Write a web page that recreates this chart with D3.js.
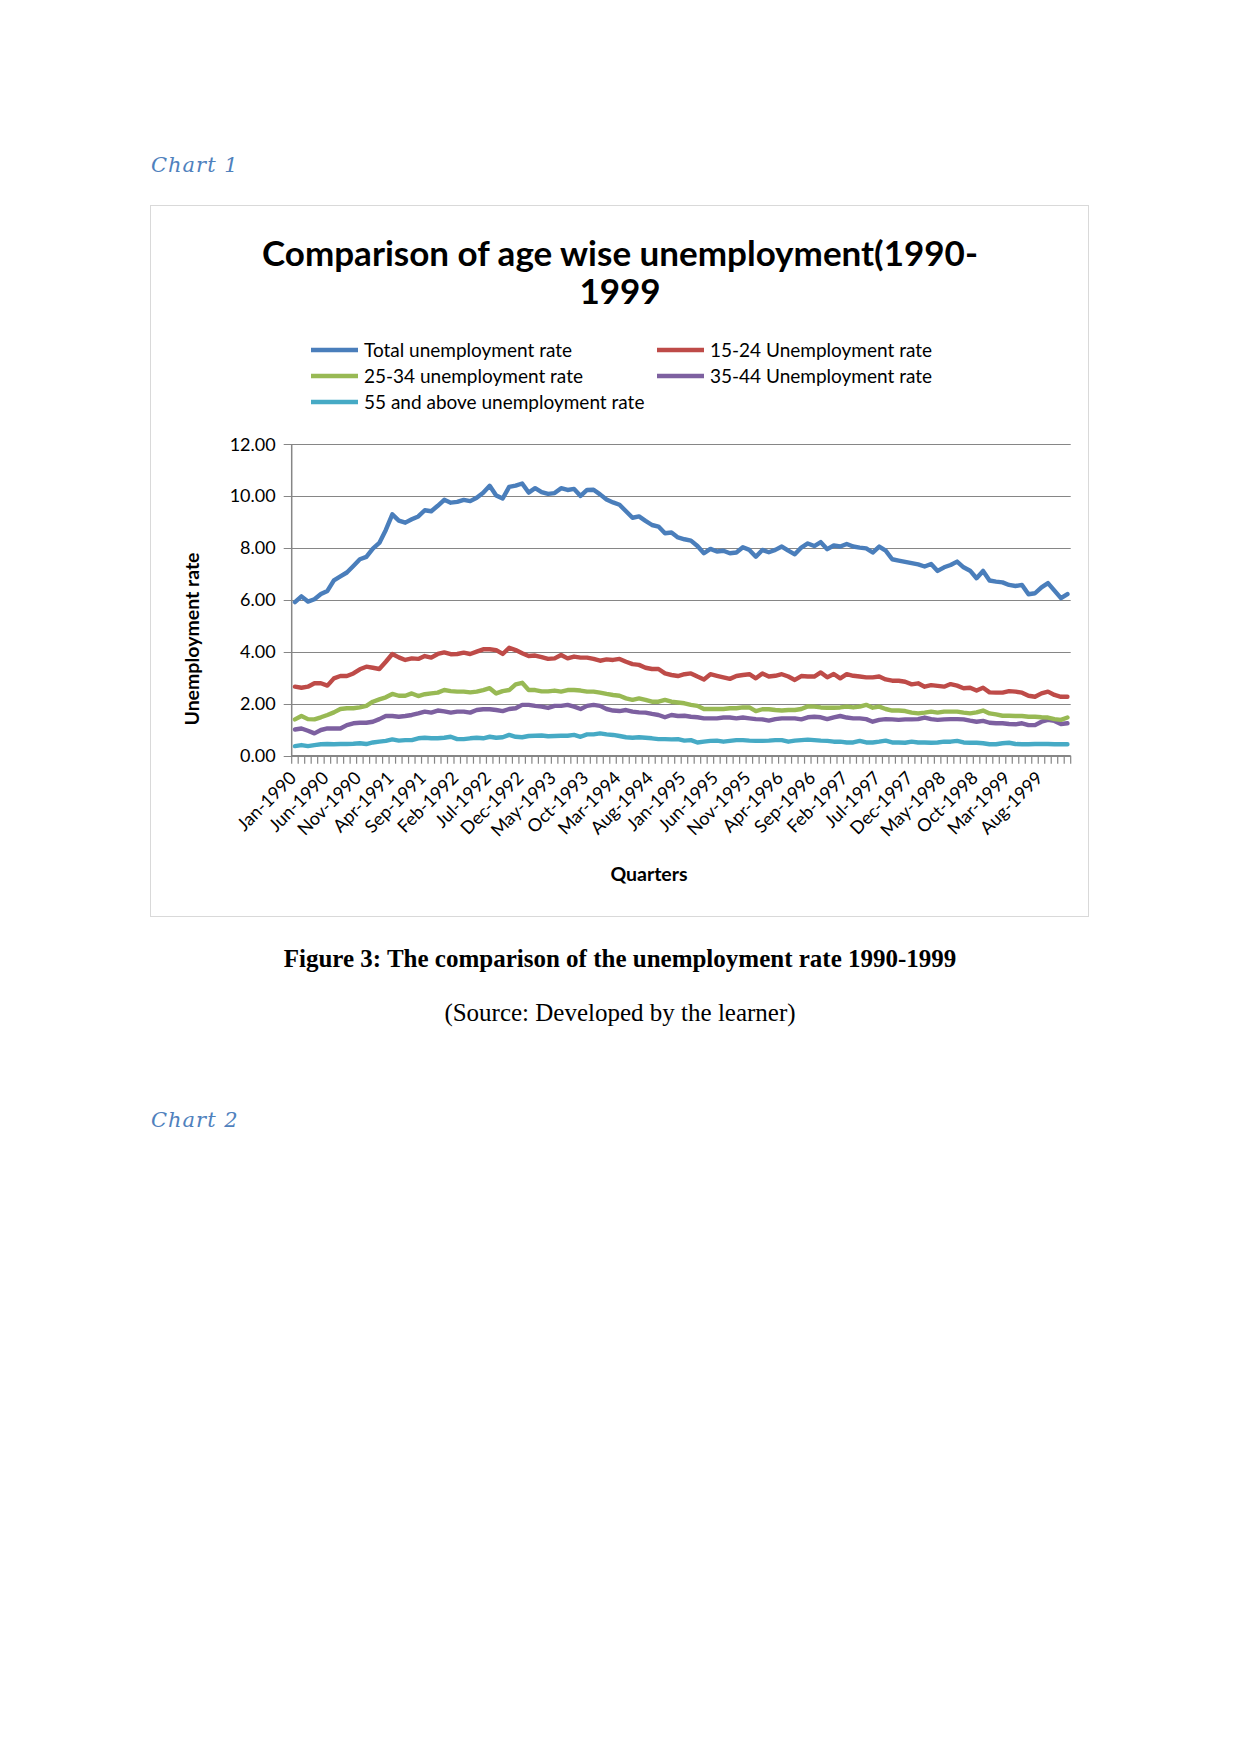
<!DOCTYPE html>
<html>
<head>
<meta charset="utf-8">
<script src="https://cdn.jsdelivr.net/npm/d3@7/dist/d3.min.js"></script>
<style>
  html, body { margin: 0; padding: 0; background: #ffffff; }
  svg { display: block; }
</style>
</head>
<body>
<svg id="page" width="1241" height="1754"></svg>
<script>
// ---------------- DATA ----------------
const monthNames = ["Jan","Feb","Mar","Apr","May","Jun","Jul","Aug","Sep","Oct","Nov","Dec"];
const years = [1990,1991,1992,1993,1994,1995,1996,1997,1998,1999];
const categories = [];
years.forEach(y => monthNames.forEach(m => categories.push(m + "-" + y)));

const xTickLabels = ["Jan-1990","Jun-1990","Nov-1990","Apr-1991","Sep-1991","Feb-1992","Jul-1992","Dec-1992",
  "May-1993","Oct-1993","Mar-1994","Aug-1994","Jan-1995","Jun-1995","Nov-1995","Apr-1996","Sep-1996",
  "Feb-1997","Jul-1997","Dec-1997","May-1998","Oct-1998","Mar-1999","Aug-1999"];

const yTicks = [0, 2, 4, 6, 8, 10, 12];

const seriesNames = ["Total unemployment rate","15-24 Unemployment rate","25-34 unemployment rate",
  "35-44 Unemployment rate","55 and above unemployment rate"];

const totalRate = [5.92,6.14,5.94,6.03,6.23,6.35,6.76,6.91,7.06,7.31,
  7.57,7.66,7.98,8.20,8.70,9.30,9.06,8.98,9.11,9.22,
  9.46,9.42,9.63,9.86,9.75,9.78,9.86,9.81,9.94,10.13,
  10.40,10.03,9.91,10.36,10.41,10.49,10.14,10.31,10.16,10.09,
  10.12,10.31,10.24,10.28,10.01,10.24,10.25,10.07,9.87,9.76,
  9.67,9.42,9.17,9.22,9.05,8.89,8.83,8.57,8.60,8.41,
  8.34,8.29,8.08,7.80,7.97,7.87,7.90,7.80,7.83,8.03,
  7.93,7.67,7.93,7.84,7.93,8.06,7.90,7.76,8.02,8.18,
  8.08,8.23,7.96,8.10,8.06,8.16,8.06,8.02,7.99,7.83,
  8.06,7.90,7.57,7.52,7.47,7.42,7.37,7.29,7.39,7.12,
  7.26,7.35,7.48,7.26,7.13,6.84,7.12,6.75,6.71,6.68,
  6.58,6.54,6.58,6.22,6.26,6.49,6.65,6.36,6.07,6.23];

const rate15to24 = [2.66,2.62,2.66,2.79,2.79,2.70,2.98,3.07,3.07,3.17,
  3.33,3.43,3.39,3.34,3.62,3.92,3.79,3.69,3.75,3.73,
  3.84,3.78,3.92,3.98,3.91,3.92,3.97,3.92,4.01,4.10,
  4.10,4.07,3.92,4.16,4.07,3.95,3.84,3.86,3.80,3.73,
  3.75,3.88,3.75,3.82,3.78,3.78,3.73,3.66,3.71,3.69,
  3.73,3.62,3.53,3.50,3.39,3.34,3.34,3.17,3.11,3.07,
  3.14,3.17,3.05,2.94,3.14,3.08,3.02,2.96,3.07,3.11,
  3.14,2.98,3.17,3.05,3.08,3.14,3.05,2.92,3.07,3.05,
  3.05,3.21,3.02,3.15,2.98,3.14,3.08,3.05,3.02,3.02,
  3.05,2.94,2.89,2.89,2.85,2.75,2.79,2.66,2.72,2.69,
  2.66,2.76,2.70,2.60,2.62,2.51,2.62,2.44,2.43,2.43,
  2.49,2.47,2.43,2.31,2.27,2.40,2.47,2.34,2.27,2.27];

const rate25to34 = [1.40,1.53,1.41,1.40,1.48,1.57,1.67,1.80,1.83,1.83,
  1.86,1.92,2.08,2.17,2.25,2.38,2.31,2.31,2.40,2.30,
  2.37,2.40,2.43,2.53,2.49,2.47,2.47,2.44,2.47,2.53,
  2.60,2.40,2.49,2.53,2.75,2.81,2.53,2.53,2.48,2.48,
  2.51,2.47,2.53,2.53,2.51,2.47,2.47,2.43,2.38,2.34,
  2.31,2.21,2.15,2.21,2.15,2.08,2.08,2.15,2.08,2.05,
  2.02,1.96,1.92,1.80,1.80,1.80,1.80,1.83,1.83,1.86,
  1.86,1.72,1.79,1.79,1.76,1.74,1.76,1.76,1.80,1.90,
  1.89,1.86,1.85,1.85,1.86,1.89,1.86,1.89,1.96,1.85,
  1.89,1.80,1.74,1.74,1.72,1.66,1.63,1.66,1.70,1.66,
  1.70,1.70,1.70,1.66,1.63,1.67,1.74,1.63,1.59,1.54,
  1.54,1.53,1.53,1.50,1.50,1.48,1.47,1.41,1.38,1.47];

const rate35to44 = [1.01,1.05,0.96,0.86,0.99,1.05,1.05,1.05,1.18,1.25,
  1.27,1.27,1.31,1.41,1.53,1.53,1.50,1.53,1.57,1.63,
  1.70,1.66,1.74,1.71,1.66,1.70,1.70,1.66,1.76,1.79,
  1.79,1.76,1.72,1.80,1.83,1.96,1.96,1.92,1.89,1.84,
  1.92,1.92,1.96,1.89,1.80,1.92,1.96,1.92,1.80,1.74,
  1.72,1.76,1.70,1.67,1.66,1.61,1.57,1.48,1.57,1.53,
  1.54,1.50,1.48,1.44,1.44,1.44,1.47,1.47,1.44,1.47,
  1.44,1.41,1.40,1.35,1.41,1.44,1.44,1.44,1.40,1.48,
  1.50,1.48,1.41,1.48,1.53,1.47,1.44,1.44,1.41,1.31,
  1.38,1.41,1.40,1.38,1.40,1.40,1.41,1.47,1.41,1.38,
  1.40,1.41,1.41,1.40,1.35,1.31,1.34,1.27,1.25,1.25,
  1.22,1.21,1.25,1.18,1.18,1.31,1.38,1.34,1.22,1.25];

const rate55plus = [0.37,0.41,0.37,0.41,0.44,0.45,0.44,0.45,0.45,0.46,
  0.48,0.45,0.51,0.54,0.57,0.63,0.58,0.60,0.60,0.67,
  0.69,0.67,0.67,0.69,0.73,0.64,0.64,0.67,0.69,0.67,
  0.73,0.69,0.71,0.80,0.73,0.71,0.76,0.77,0.78,0.75,
  0.76,0.77,0.77,0.80,0.73,0.82,0.82,0.86,0.82,0.80,
  0.76,0.71,0.69,0.71,0.69,0.67,0.64,0.64,0.63,0.64,
  0.58,0.60,0.51,0.54,0.57,0.58,0.54,0.57,0.60,0.60,
  0.58,0.57,0.57,0.58,0.60,0.60,0.54,0.58,0.60,0.62,
  0.60,0.58,0.57,0.54,0.54,0.51,0.51,0.57,0.51,0.51,
  0.54,0.58,0.51,0.51,0.50,0.54,0.51,0.51,0.50,0.51,
  0.54,0.54,0.57,0.51,0.50,0.50,0.48,0.44,0.44,0.48,
  0.50,0.45,0.44,0.44,0.45,0.45,0.45,0.44,0.44,0.44];

const seriesValues = [totalRate, rate15to24, rate25to34, rate35to44, rate55plus];
const seriesColors = ["#4A7EBB", "#BE4B48", "#98B954", "#7D60A0", "#46AAC5"];

// ---------------- LAYOUT ----------------
const svg = d3.select("#page");
const sans = "Lato, 'Open Sans', sans-serif";
const serif = "'Liberation Serif', 'Times New Roman', serif";

svg.append("rect").attr("width", 1241).attr("height", 1754).attr("fill", "#fff");

// Page headings
svg.append("text").attr("x", 151).attr("y", 172)
  .attr("font-family", "'DejaVu Serif', serif").attr("font-style", "italic")
  .attr("font-size", 21).attr("fill", "#4F81BD").attr("letter-spacing", 1).text("Chart 1");

svg.append("text").attr("x", 151).attr("y", 1127)
  .attr("font-family", "'DejaVu Serif', serif").attr("font-style", "italic")
  .attr("font-size", 21).attr("fill", "#4F81BD").attr("letter-spacing", 1).text("Chart 2");

// Chart frame
svg.append("rect").attr("x", 150.5).attr("y", 205.5).attr("width", 938).attr("height", 711)
  .attr("fill", "#fff").attr("stroke", "#D9D9D9").attr("stroke-width", 1);

// Title
const title = svg.append("text").attr("text-anchor", "middle")
  .attr("font-family", sans).attr("font-weight", "bold").attr("font-size", 35).attr("fill", "#000");
title.append("tspan").attr("x", 620).attr("y", 266).text("Comparison of age wise unemployment(1990-");
title.append("tspan").attr("x", 620).attr("y", 304).text("1999");

// Legend
const legendPos = [[311, 350], [657, 350], [311, 376], [657, 376], [311, 402]];
const legend = svg.append("g");
seriesNames.forEach((name, i) => {
  const [lx, ly] = legendPos[i];
  legend.append("line").attr("x1", lx).attr("x2", lx + 47).attr("y1", ly).attr("y2", ly)
    .attr("stroke", seriesColors[i]).attr("stroke-width", 4.5);
  legend.append("text").attr("x", lx + 53).attr("y", ly).attr("dy", "0.35em")
    .attr("font-family", sans).attr("font-size", 19).attr("fill", "#000").text(name);
});

// Plot area
const plot = { left: 291.7, right: 1070.7, top: 444.3, bottom: 755.7 };
const x = d3.scaleBand().domain(categories).range([plot.left, plot.right]).paddingInner(0).paddingOuter(0);
const y = d3.scaleLinear().domain([0, 12]).range([plot.bottom, plot.top]);
const cx = c => x(c) + x.bandwidth() / 2;

// Gridlines
svg.append("g").selectAll("line").data(yTicks).join("line")
  .attr("x1", plot.left - 8).attr("x2", plot.right)
  .attr("y1", d => Math.round(y(d)) + 0.5).attr("y2", d => Math.round(y(d)) + 0.5)
  .attr("stroke", "#868686").attr("stroke-width", 1.2);

// Y axis (labels)
const yAxis = svg.append("g").attr("transform", `translate(${plot.left},0)`)
  .call(d3.axisLeft(y).tickValues(yTicks).tickFormat(d3.format(".2f")).tickSize(0).tickPadding(16));
yAxis.select(".domain").remove();
yAxis.selectAll("text").attr("font-family", sans).attr("font-size", 18).attr("fill", "#000");

// Y axis line
svg.append("line").attr("x1", plot.left).attr("x2", plot.left)
  .attr("y1", plot.top).attr("y2", plot.bottom + 0.5)
  .attr("stroke", "#868686").attr("stroke-width", 1.5);

// X axis line and boundary ticks
svg.append("line").attr("x1", plot.left).attr("x2", plot.right)
  .attr("y1", plot.bottom).attr("y2", plot.bottom)
  .attr("stroke", "#868686").attr("stroke-width", 1.5);
const boundaries = categories.map(c => x(c)).concat([plot.right]);
svg.append("g").selectAll("line").data(boundaries).join("line")
  .attr("x1", d => d).attr("x2", d => d)
  .attr("y1", plot.bottom).attr("y2", plot.bottom + 8)
  .attr("stroke", "#868686").attr("stroke-width", 1.2);

// X tick labels
const xAxis = svg.append("g").attr("transform", `translate(0,${plot.bottom})`)
  .call(d3.axisBottom(x).tickValues(xTickLabels).tickSize(0).tickPadding(0));
xAxis.select(".domain").remove();
xAxis.selectAll("text")
  .attr("font-family", sans).attr("font-size", 18).attr("fill", "#000")
  .attr("text-anchor", "end")
  .attr("transform", "translate(-2,19) rotate(-45)")
  .attr("dy", "0.35em").attr("y", 0);

// Axis titles
svg.append("text").attr("transform", "translate(199,639) rotate(-90)").attr("text-anchor", "middle")
  .attr("font-family", sans).attr("font-weight", "bold").attr("font-size", 19.5).attr("fill", "#000")
  .text("Unemployment rate");
svg.append("text").attr("x", 649).attr("y", 881).attr("text-anchor", "middle")
  .attr("font-family", sans).attr("font-weight", "bold").attr("font-size", 19.5).attr("fill", "#000")
  .text("Quarters");

// Lines
const line = d3.line().x((d, i) => cx(categories[i])).y(d => y(d));
const linesG = svg.append("g");
seriesValues.slice().reverse().forEach((vals, k) => {
  const i = seriesValues.length - 1 - k;
  linesG.append("path").datum(vals).attr("d", line)
    .attr("fill", "none").attr("stroke", seriesColors[i]).attr("stroke-width", 4.4)
    .attr("stroke-linejoin", "round").attr("stroke-linecap", "round");
});

// Captions
svg.append("text").attr("x", 620).attr("y", 967).attr("text-anchor", "middle")
  .attr("font-family", serif).attr("font-weight", "bold").attr("font-size", 25).attr("fill", "#000")
  .text("Figure 3: The comparison of the unemployment rate 1990-1999");
svg.append("text").attr("x", 620).attr("y", 1021).attr("text-anchor", "middle")
  .attr("font-family", serif).attr("font-size", 25).attr("fill", "#000")
  .text("(Source: Developed by the learner)");
</script>
</body>
</html>
